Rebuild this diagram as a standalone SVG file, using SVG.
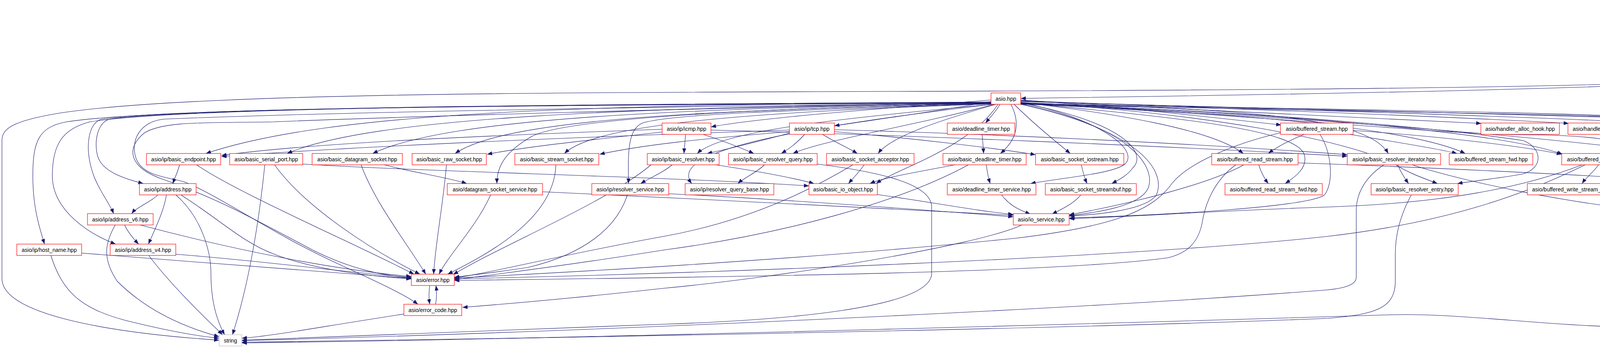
<svg xmlns="http://www.w3.org/2000/svg" width="5137" height="891" viewBox="0 0 5137 891">
<style>
.n rect{fill:#fff;stroke:#ff0000;stroke-width:1.2}
.n.k rect{stroke:#000}
.n.g rect{stroke:#bfbfbf}
.n.s rect{fill:#bfbfbf;stroke:#000}
.n text{font-family:"Liberation Sans",Arial,sans-serif;font-size:14px;text-anchor:middle;fill:#000}
#edges path{fill:none;stroke:#191970;stroke-width:1.1;marker-end:url(#arr)}
</style>
<defs>
<marker id="arr" markerUnits="userSpaceOnUse" markerWidth="13" markerHeight="10" refX="13" refY="5" orient="auto">
<path d="M0,0 L13,5 L0,10 z" fill="#191970"/>
</marker>
</defs>
<rect width="5137" height="891" fill="#fff"/>
<g id="edges">
<path d="M4687,35 L4687,83"/>
<path d="M4675,112 C4665,130 4652,145 4645,161"/>
<path d="M4699,112 C4710,130 4722,145 4731,161"/>
<path d="M4769,189 C4790,208 4830,225 4852,238"/>
<path d="M4797,188 C4860,210 4950,228 5010,239"/>
<path d="M4743,189 L4743,420 C4743,510 4620,548 4474,562"/>
<path d="M4689,185 C4450,225 3300,242 2613,252"/>
<path d="M4689,184 C4400,222 3500,229 2575,233 C1500,237 500,235 150,290 C30,310 5,330 5,360 L5,713 C5,800 250,850 561,871"/>
<path d="M2537,256 C2300,275 1950,300 1820,325"/>
<path d="M2537,260 C2400,285 2250,305 2136,322"/>
<path d="M2560,267 C2550,285 2535,300 2523,315"/>
<path d="M2613,256 C2850,272 3100,300 3280,320"/>
<path d="M2613,257 C3000,280 3500,300 3792,316"/>
<path d="M2613,258 C3200,280 3750,300 4016,316"/>
<path d="M2613,259 C3300,280 3950,300 4254,316"/>
<path d="M2613,260 C3400,282 4250,300 4531,316"/>
<path d="M2537,262 C1500,268 850,285 527,393"/>
<path d="M2537,263 C1600,275 950,300 735,393"/>
<path d="M2537,264 C1750,278 1150,300 954,393"/>
<path d="M2537,265 C1850,282 1300,300 1165,393"/>
<path d="M2537,266 C2000,285 1530,310 1445,393"/>
<path d="M2540,267 C2200,300 1850,330 1785,393"/>
<path d="M2545,267 C2350,320 2100,360 2030,393"/>
<path d="M2550,267 C2400,310 2280,350 2248,393"/>
<path d="M2588,267 C2615,320 2600,360 2561,393"/>
<path d="M2596,267 C2650,320 2700,360 2740,393"/>
<path d="M2613,262 C2850,290 3100,330 3183,393"/>
<path d="M2613,263 C3200,280 3500,300 3554,393"/>
<path d="M2613,264 C3200,290 3620,330 3751,393"/>
<path d="M2613,265 C3300,290 3850,340 4000,395"/>
<path d="M2613,266 C3400,300 4050,360 4345,402"/>
<path d="M2537,263 C1500,268 480,275 280,305 C250,315 240,360 250,400 C262,440 320,458 367,470"/>
<path d="M2537,266 C2000,275 1450,300 1360,350 C1300,385 1272,420 1272,470"/>
<path d="M2537,266 C2100,280 1720,290 1645,315 C1605,330 1608,400 1609,470"/>
<path d="M2540,267 C2100,320 1700,380 1771,470"/>
<path d="M2555,267 C2480,380 2300,430 2243,470"/>
<path d="M2613,262 C2800,300 2920,380 2880,420 C2850,445 2720,455 2638,470"/>
<path d="M2613,264 C2870,310 2940,390 2900,430 C2885,450 2865,460 2846,470"/>
<path d="M2613,266 C2880,320 2960,420 2940,480 C2920,530 2800,545 2737,552"/>
<path d="M2613,263 C3000,300 3330,330 3340,400 C3345,430 3320,450 3290,470"/>
<path d="M2613,264 C3300,290 3700,330 3900,360 C3950,380 3950,430 3900,445 C3850,455 3780,462 3731,470"/>
<path d="M2613,265 C3300,300 3700,345 3900,345 C4100,345 4250,370 4240,420 C4230,450 4180,462 4140,470"/>
<path d="M2613,266 C3400,280 4300,290 4415,315 C4440,330 4420,350 4360,372 C4320,390 4300,420 4296,470"/>
<path d="M2613,267 C3400,285 4350,295 4440,315 C4500,340 4545,400 4540,470"/>
<path d="M2537,264 C1500,268 450,275 260,305 C225,315 215,380 240,450 C255,490 280,520 291,547"/>
<path d="M2613,267 C2900,330 2990,430 2960,500 C2930,540 2800,550 2737,553"/>
<path d="M2537,261 C1400,268 400,275 170,312 C100,325 84,360 84,450 C84,530 100,580 114,625"/>
<path d="M2537,262 C1400,268 450,275 230,312 C160,330 134,370 134,450 C134,540 230,600 296,625"/>
<path d="M2537,265 C1800,275 1000,300 700,312 C520,315 420,310 370,340 C320,380 330,430 420,460 C560,510 650,560 800,640 C900,690 980,705 1053,712"/>
<path d="M2537,264 C1800,272 900,285 420,305 C360,310 330,360 350,410 C370,450 420,452 470,465 C560,500 700,600 860,673 C950,715 1030,750 1070,779"/>
<path d="M2613,262 C3100,290 3450,360 3570,420 C3600,440 3640,455 3680,470"/>
<path d="M1695,331 C1300,345 800,365 567,398"/>
<path d="M1695,338 C1500,360 1350,375 1247,395"/>
<path d="M1755,344 C1754,360 1752,375 1751,393"/>
<path d="M1800,344 C1850,360 1900,380 1930,393"/>
<path d="M1820,333 C2300,345 3000,375 3449,400"/>
<path d="M2021,333 C1500,350 900,375 567,401"/>
<path d="M2021,337 C1800,355 1650,370 1535,395"/>
<path d="M2021,341 C1950,360 1880,378 1810,393"/>
<path d="M2060,344 C2045,360 2030,375 2000,393"/>
<path d="M2106,344 C2130,360 2170,378 2195,393"/>
<path d="M2136,337 C2350,355 2550,380 2651,396"/>
<path d="M2136,332 C2600,345 3100,370 3449,396"/>
<path d="M2514,344 C2516,360 2517,375 2518,393"/>
<path d="M3339,344 C3300,360 3270,375 3247,393"/>
<path d="M3464,334 C3700,350 3900,375 3998,395"/>
<path d="M3455,344 C3550,360 3680,380 3730,393"/>
<path d="M3379,344 C3410,390 3415,470 3390,500 C3340,530 3000,550 2738,558"/>
<path d="M3278,340 C3150,370 3040,420 3000,470 C2950,540 2850,580 2600,610 C2000,670 1400,700 1163,712"/>
<path d="M460,421 C455,440 448,455 442,470"/>
<path d="M502,421 C600,490 900,620 1060,702"/>
<path d="M678,421 C660,600 630,750 595,857"/>
<path d="M702,421 C780,530 950,640 1075,702"/>
<path d="M775,420 C1100,440 1700,452 2071,476"/>
<path d="M980,421 C1050,440 1150,455 1195,470"/>
<path d="M924,421 C960,520 1040,620 1090,702"/>
<path d="M1143,421 C1135,520 1115,620 1110,702"/>
<path d="M1423,421 C1420,560 1250,650 1146,702"/>
<path d="M1722,421 C1700,440 1665,455 1640,470"/>
<path d="M1826,421 C1950,440 2030,455 2084,470"/>
<path d="M1668,421 C1550,520 1300,620 1160,703"/>
<path d="M1958,421 C1940,440 1905,455 1889,470"/>
<path d="M2092,420 C2250,440 2385,470 2385,530 L2385,700 C2385,790 2000,820 1700,830 C1200,850 800,865 619,871"/>
<path d="M2213,421 C2200,440 2185,455 2172,470"/>
<path d="M2185,421 C2120,460 1950,560 1700,605 C1450,650 1250,700 1163,712"/>
<path d="M2450,421 C2350,440 2260,455 2227,470"/>
<path d="M2525,421 C2527,440 2530,455 2535,470"/>
<path d="M2481,421 C2300,520 2000,600 1700,640 C1450,680 1250,705 1163,716"/>
<path d="M2768,421 C2772,440 2776,455 2783,470"/>
<path d="M3222,421 C3228,440 3235,455 3247,470"/>
<path d="M3323,417 C3700,430 4200,455 4474,475"/>
<path d="M3165,421 C3110,460 3085,520 3077,573 C3065,630 3030,650 2990,660 C2700,700 1800,710 1163,718"/>
<path d="M3186,421 C3100,470 2900,520 2737,550"/>
<path d="M3578,421 C3585,440 3595,455 3606,470"/>
<path d="M3612,421 C3700,450 4000,530 4413,558"/>
<path d="M3544,421 C3500,450 3472,490 3472,540 L3472,710 C3472,730 3440,738 3400,742 C2800,790 1500,850 619,872"/>
<path d="M4093,421 C4080,440 4060,455 4050,470"/>
<path d="M4190,421 C4300,440 4400,458 4474,472"/>
<path d="M4143,421 C4180,440 4220,455 4250,470"/>
<path d="M4053,421 C3900,480 3700,520 3400,530 C3100,540 2900,555 2737,560"/>
<path d="M4060,421 C3900,500 3700,570 3400,605 C2900,660 1800,700 1163,714"/>
<path d="M4438,421 C4440,460 4442,500 4444,547"/>
<path d="M4456,421 C4470,440 4485,455 4500,470"/>
<path d="M4612,344 C4600,400 4570,440 4550,470"/>
<path d="M404,499 C390,515 350,530 337,547"/>
<path d="M426,499 C420,540 395,590 380,625"/>
<path d="M450,499 C520,560 540,650 540,700 C540,780 560,830 575,857"/>
<path d="M463,499 C560,560 620,620 700,650 C800,690 950,708 1053,714"/>
<path d="M319,576 C325,590 340,610 355,625"/>
<path d="M295,576 C270,620 260,660 300,720 C380,800 480,840 561,862"/>
<path d="M359,576 C600,640 850,690 1053,708"/>
<path d="M130,653 C160,750 210,790 320,820 C420,845 500,860 561,866"/>
<path d="M209,648 C500,670 850,700 1053,713"/>
<path d="M380,653 C430,720 510,800 570,857"/>
<path d="M450,651 C700,670 900,700 1053,710"/>
<path d="M1100,731 C1098,745 1098,765 1100,779"/>
<path d="M1115,779 C1118,765 1118,745 1116,731"/>
<path d="M1034,804 C800,840 700,860 619,866"/>
<path d="M2616,576 C2500,630 2000,710 1700,738 C1500,760 1300,778 1184,787"/>
<path d="M1389,491 C1800,510 2300,535 2594,551"/>
<path d="M1256,499 C1220,580 1150,650 1124,702"/>
<path d="M1712,496 C2000,510 2400,540 2594,555"/>
<path d="M1606,499 C1580,580 1500,650 1350,685 C1250,700 1200,705 1163,710"/>
<path d="M2246,498 C2400,520 2500,540 2594,549"/>
<path d="M2564,499 C2580,520 2600,535 2638,548"/>
<path d="M2767,499 C2750,520 2720,535 2693,548"/>
<path d="M3613,499 C3585,550 3572,600 3572,650 L3572,720 C3572,790 3520,805 3400,815 C2800,840 1500,865 619,876"/>
<path d="M4530,499 C4527,560 4525,640 4525,700 C4525,800 4450,835 4260,838 C4000,842 3750,800 3560,806 C3100,820 1500,868 619,878"/>
<path d="M4514,499 C4500,515 4480,532 4466,547"/>
</g>
<g id="node-cpp" class="n s"><rect x="4631" y="6" width="112" height="29"/><text x="4687" y="25.5">Hashcode.cpp</text></g>
<g id="node-h" class="n k"><rect x="4639" y="83" width="97" height="29"/><text x="4687.5" y="102.5">Hashcode.h</text></g>
<g id="node-stdlib" class="n g"><rect x="4598" y="161" width="68" height="29"/><text x="4632" y="180.5">stdlib.h</text></g>
<g id="node-net" class="n k"><rect x="4689" y="161" width="109" height="29"/><text x="4743.5" y="180.5">NetAddress.h</text></g>
<g id="node-asio" class="n"><rect x="2537" y="238" width="76" height="29"/><text x="2575" y="257.5">asio.hpp</text></g>
<g id="node-boost" class="n g"><rect x="4779" y="238" width="191" height="29"/><text x="4874.5" y="257.5">boost/algorithm/string.hpp</text></g>
<g id="node-castor" class="n g"><rect x="4993" y="238" width="140" height="29"/><text x="5063" y="257.5">castor/Exception.h</text></g>
<g id="node-icmp" class="n"><rect x="1695" y="315" width="125" height="29"/><text x="1757.5" y="334.5">asio/ip/icmp.hpp</text></g>
<g id="node-tcp" class="n"><rect x="2021" y="315" width="115" height="29"/><text x="2078.5" y="334.5">asio/ip/tcp.hpp</text></g>
<g id="node-dt" class="n"><rect x="2425" y="315" width="173" height="29"/><text x="2511.5" y="334.5">asio/deadline_timer.hpp</text></g>
<g id="node-bs" class="n"><rect x="3278" y="315" width="186" height="29"/><text x="3371" y="334.5">asio/buffered_stream.hpp</text></g>
<g id="node-hah" class="n"><rect x="3791" y="315" width="201" height="29"/><text x="3891.5" y="334.5">asio/handler_alloc_hook.hpp</text></g>
<g id="node-hih" class="n"><rect x="4014" y="315" width="214" height="29"/><text x="4121" y="334.5">asio/handler_invoke_hook.hpp</text></g>
<g id="node-mc" class="n"><rect x="4252" y="315" width="153" height="29"/><text x="4328.5" y="334.5">asio/ip/multicast.hpp</text></g>
<g id="node-bi" class="n"><rect x="4529" y="315" width="176" height="29"/><text x="4617" y="334.5">asio/buffers_iterator.hpp</text></g>
<g id="node-ep" class="n"><rect x="375" y="393" width="190" height="29"/><text x="470" y="412.5">asio/ip/basic_endpoint.hpp</text></g>
<g id="node-sp" class="n"><rect x="588" y="393" width="187" height="29"/><text x="681.5" y="412.5">asio/basic_serial_port.hpp</text></g>
<g id="node-ds" class="n"><rect x="799" y="393" width="231" height="29"/><text x="914.5" y="412.5">asio/basic_datagram_socket.hpp</text></g>
<g id="node-rs" class="n"><rect x="1055" y="393" width="190" height="29"/><text x="1150" y="412.5">asio/basic_raw_socket.hpp</text></g>
<g id="node-ss" class="n"><rect x="1318" y="393" width="215" height="29"/><text x="1425.5" y="412.5">asio/basic_stream_socket.hpp</text></g>
<g id="node-br" class="n"><rect x="1657" y="393" width="184" height="29"/><text x="1749" y="412.5">asio/ip/basic_resolver.hpp</text></g>
<g id="node-brq" class="n"><rect x="1865" y="393" width="227" height="29"/><text x="1978.5" y="412.5">asio/ip/basic_resolver_query.hpp</text></g>
<g id="node-sa" class="n"><rect x="2116" y="393" width="224" height="29"/><text x="2228" y="412.5">asio/basic_socket_acceptor.hpp</text></g>
<g id="node-bdt" class="n"><rect x="2414" y="393" width="213" height="29"/><text x="2520.5" y="412.5">asio/basic_deadline_timer.hpp</text></g>
<g id="node-sio" class="n"><rect x="2651" y="393" width="226" height="29"/><text x="2764" y="412.5">asio/basic_socket_iostream.hpp</text></g>
<g id="node-brs" class="n"><rect x="3102" y="393" width="221" height="29"/><text x="3212.5" y="412.5">asio/buffered_read_stream.hpp</text></g>
<g id="node-bri" class="n"><rect x="3449" y="393" width="239" height="29"/><text x="3568.5" y="412.5">asio/ip/basic_resolver_iterator.hpp</text></g>
<g id="node-bsf" class="n"><rect x="3710" y="393" width="214" height="29"/><text x="3817" y="412.5">asio/buffered_stream_fwd.hpp</text></g>
<g id="node-bws" class="n"><rect x="3998" y="393" width="223" height="29"/><text x="4109.5" y="412.5">asio/buffered_write_stream.hpp</text></g>
<g id="node-sb" class="n"><rect x="4345" y="393" width="184" height="29"/><text x="4437" y="412.5">asio/basic_streambuf.hpp</text></g>
<g id="node-addr" class="n"><rect x="357" y="470" width="145" height="29"/><text x="429.5" y="489.5">asio/ip/address.hpp</text></g>
<g id="node-dss" class="n"><rect x="1145" y="470" width="244" height="29"/><text x="1267" y="489.5">asio/datagram_socket_service.hpp</text></g>
<g id="node-rsv" class="n"><rect x="1515" y="470" width="197" height="29"/><text x="1613.5" y="489.5">asio/ip/resolver_service.hpp</text></g>
<g id="node-rqb" class="n"><rect x="1754" y="470" width="227" height="29"/><text x="1867.5" y="489.5">asio/ip/resolver_query_base.hpp</text></g>
<g id="node-bio" class="n"><rect x="2071" y="470" width="175" height="29"/><text x="2158.5" y="489.5">asio/basic_io_object.hpp</text></g>
<g id="node-dts" class="n"><rect x="2425" y="470" width="227" height="29"/><text x="2538.5" y="489.5">asio/deadline_timer_service.hpp</text></g>
<g id="node-ssb" class="n"><rect x="2676" y="470" width="233" height="29"/><text x="2792.5" y="489.5">asio/basic_socket_streambuf.hpp</text></g>
<g id="node-brsf" class="n"><rect x="3136" y="470" width="249" height="29"/><text x="3260.5" y="489.5">asio/buffered_read_stream_fwd.hpp</text></g>
<g id="node-bre" class="n"><rect x="3510" y="470" width="223" height="29"/><text x="3621.5" y="489.5">asio/ip/basic_resolver_entry.hpp</text></g>
<g id="node-bwsf" class="n"><rect x="3910" y="470" width="250" height="29"/><text x="4035" y="489.5">asio/buffered_write_stream_fwd.hpp</text></g>
<g id="node-cc" class="n"><rect x="4184" y="470" width="216" height="29"/><text x="4292" y="489.5">asio/completion_condition.hpp</text></g>
<g id="node-buf" class="n"><rect x="4474" y="470" width="116" height="29"/><text x="4532" y="489.5">asio/buffer.hpp</text></g>
<g id="node-v6" class="n"><rect x="224" y="547" width="168" height="29"/><text x="308" y="566.5">asio/ip/address_v6.hpp</text></g>
<g id="node-ios" class="n"><rect x="2594" y="547" width="143" height="29"/><text x="2665.5" y="566.5">asio/io_service.hpp</text></g>
<g id="node-vec" class="n g"><rect x="4413" y="547" width="61" height="29"/><text x="4443.5" y="566.5">vector</text></g>
<g id="node-hn" class="n"><rect x="43" y="625" width="166" height="29"/><text x="126" y="644.5">asio/ip/host_name.hpp</text></g>
<g id="node-v4" class="n"><rect x="282" y="625" width="168" height="29"/><text x="366" y="644.5">asio/ip/address_v4.hpp</text></g>
<g id="node-err" class="n"><rect x="1053" y="702" width="110" height="29"/><text x="1108" y="721.5">asio/error.hpp</text></g>
<g id="node-ec" class="n"><rect x="1034" y="779" width="148" height="29"/><text x="1108" y="798.5">asio/error_code.hpp</text></g>
<g id="node-str" class="n g"><rect x="561" y="857" width="58" height="29"/><text x="590" y="876.5">string</text></g>
</svg>
